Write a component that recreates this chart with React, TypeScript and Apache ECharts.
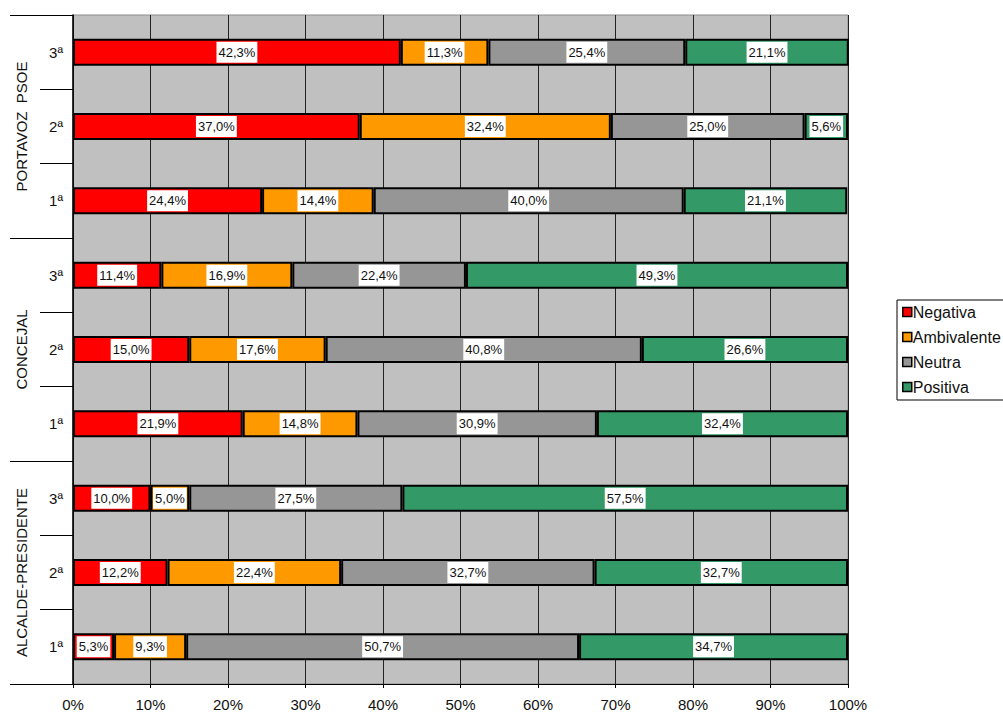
import React, { useEffect, useRef } from "react";
import * as echarts from "echarts";

const rowLabels = ["1ª", "2ª", "3ª", "1ª", "2ª", "3ª", "1ª", "2ª", "3ª"];
const groupLabels = ["ALCALDE-PRESIDENTE", "CONCEJAL", "PORTAVOZ  PSOE"];
const seriesNames = ["Negativa", "Ambivalente", "Neutra", "Positiva"];
const seriesColors = ["#FF0000", "#FF9900", "#969696", "#339966"];
// rows bottom-to-top: Alcalde 1ª,2ª,3ª, Concejal 1ª,2ª,3ª, Portavoz 1ª,2ª,3ª
const negativa = [5.3, 12.2, 10.0, 21.9, 15.0, 11.4, 24.4, 37.0, 42.3];
const ambivalente = [9.3, 22.4, 5.0, 14.8, 17.6, 16.9, 14.4, 32.4, 11.3];
const neutra = [50.7, 32.7, 27.5, 30.9, 40.8, 22.4, 40.0, 25.0, 25.4];
const positiva = [34.7, 32.7, 57.5, 32.4, 26.6, 49.3, 21.1, 5.6, 21.1];
const xTicks = [0, 10, 20, 30, 40, 50, 60, 70, 80, 90, 100];

const FONT = "Liberation Sans, Arial, sans-serif";

export default function App() {
  const ref = useRef<HTMLDivElement>(null);
  useEffect(() => {
    if (!ref.current) return;
    const chart = echarts.init(ref.current, null, { renderer: "svg" });
    const values = [negativa, ambivalente, neutra, positiva];
    chart.setOption({
      animation: false,
      textStyle: { fontFamily: FONT },
      grid: {
        left: 73,
        right: 155,
        top: 15,
        bottom: 27,
        show: true,
        backgroundColor: "#C0C0C0",
        borderColor: "#8c8c8c",
        borderWidth: 1,
      },
      legend: {
        orient: "vertical",
        left: 897,
        top: 300,
        padding: [4, 40, 5, 5],
        itemGap: 9,
        itemWidth: 9,
        itemHeight: 9,
        icon: "rect",
        borderColor: "#000",
        borderWidth: 1,
        backgroundColor: "#fff",
        textStyle: { fontSize: 16, color: "#111", fontFamily: FONT, padding: [0, 0, 0, -4] },
        data: seriesNames.map((n) => ({ name: n, itemStyle: { borderColor: "#000", borderWidth: 1.5 } })),
      },
      xAxis: {
        type: "value",
        min: 0,
        max: 100,
        interval: 10,
        axisLine: { show: true, lineStyle: { color: "#000", width: 1 } },
        axisTick: { show: true, length: 4, lineStyle: { color: "#000" } },
        axisLabel: {
          fontSize: 15,
          color: "#111",
          margin: 13,
          fontFamily: FONT,
          formatter: (v: number) => (xTicks.includes(v) ? v + "%" : ""),
        },
        splitLine: { show: true, lineStyle: { color: "#222", width: 1 } },
      },
      yAxis: [
        {
          type: "category",
          data: rowLabels,
          axisLine: { show: true, lineStyle: { color: "#000", width: 1.5 } },
          axisTick: { show: true, length: 33, lineStyle: { color: "#000" } },
          axisLabel: { fontSize: 15, color: "#111", margin: 10, fontFamily: FONT },
        },
        {
          type: "category",
          position: "left",
          data: groupLabels,
          axisLine: { show: false },
          axisTick: { show: true, length: 63, lineStyle: { color: "#000" } },
          axisLabel: {
            rotate: 90,
            fontSize: 15,
            color: "#111",
            margin: 44,
            fontFamily: FONT,
            align: "center",
            verticalAlign: "bottom",
          },
        },
      ],
      series: seriesNames.map((name, i) => ({
        name,
        type: "bar",
        stack: "total",
        yAxisIndex: 0,
        barWidth: 27,
        data: values[i],
        itemStyle: { color: seriesColors[i], borderColor: "#000", borderWidth: 2 },
        label: {
          show: true,
          position: "inside",
          color: "#111",
          fontSize: 13,
          fontFamily: FONT,
          backgroundColor: "#fff",
          padding: [4, 2, 4, 2],
          formatter: (p: any) => p.value.toFixed(1).replace(".", ",") + "%",
        },
      })),
    });
    return () => chart.dispose();
  }, []);
  return (
    <div
      ref={ref}
      style={{ position: "fixed", left: 0, top: 0, width: 1003, height: 712, background: "#fff" }}
    />
  );
}
